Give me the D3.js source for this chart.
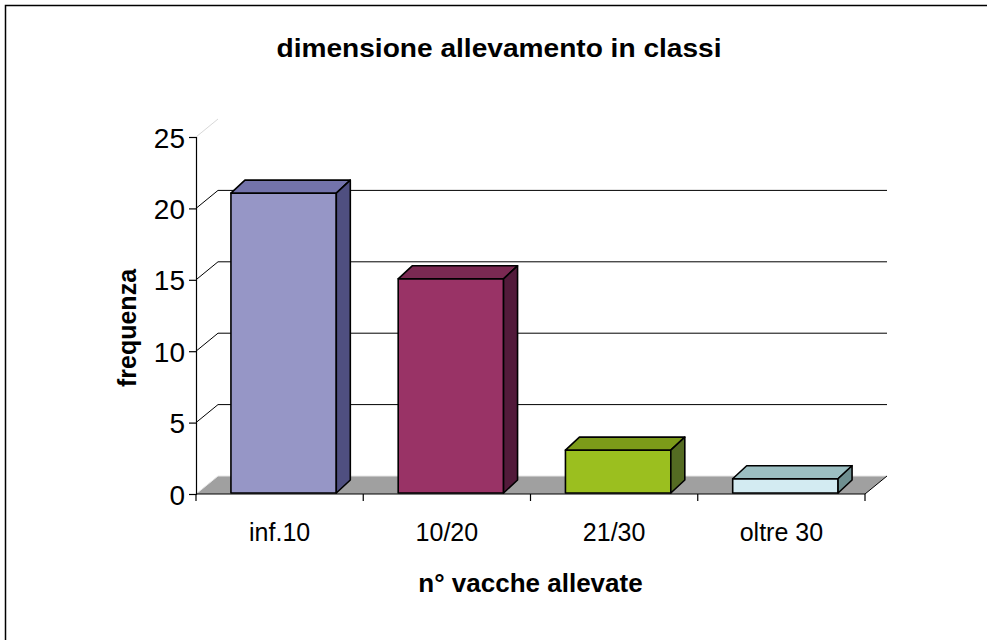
<!DOCTYPE html>
<html>
<head>
<meta charset="utf-8">
<script src="https://cdn.jsdelivr.net/npm/d3@7"></script>
<style>
  body { margin: 0; background: #fff; overflow: hidden; }
  svg { display: block; overflow: hidden; }
  text { font-family: "Liberation Sans Narrow", "Arial Narrow", "Liberation Sans", sans-serif; fill: #000; }
</style>
</head>
<body>
<div id="chart"></div>
<script>
// data
const categories = ["inf.10", "10/20", "21/30", "oltre 30"];
const values = [21, 15, 3, 1];
const tickValues = [0, 5, 10, 15, 20, 25];
const frontColors = ["#9696c6", "#993366", "#9bbf1f", "#d3ebf2"];
const topColors = ["#7373ab", "#7a2952", "#7c9b19", "#9cbfc2"];
const sideColors = ["#4f4f80", "#521a3a", "#546b22", "#6e8f90"];

const width = 987, height = 640;

// plot frame (front plane)
const plotLeft = 196, plotRight = 865, plotTop = 137, plotBottom = 494;
// depth of the walls and of the bars
const wallDx = 22, wallDy = -18;
const barDx = 14, barDy = -13;
const barShiftX = 4, barShiftY = -1;

const svg = d3.select("#chart").append("svg")
  .attr("width", width)
  .attr("height", height);

// outer frame
svg.append("rect")
  .attr("x", 5.5).attr("y", 5.5)
  .attr("width", 1000).attr("height", 700)
  .attr("fill", "none")
  .attr("stroke", "#000")
  .attr("stroke-width", 1.5);

const y = d3.scaleLinear().domain([0, 25]).range([plotBottom, plotTop]);
const x = d3.scaleBand().domain(categories).range([plotLeft, plotRight]).padding(0);
const xBar = d3.scaleBand().domain(categories).range([plotLeft, plotRight])
  .paddingInner(0.37).paddingOuter(0.185);

// back wall gridlines + side wall diagonals
const grid = svg.append("g");
tickValues.filter(v => v > 0).forEach(v => {
  const faint = v === 25;
  grid.append("line")
    .attr("x1", plotLeft).attr("y1", y(v))
    .attr("x2", plotLeft + wallDx).attr("y2", y(v) + wallDy)
    .attr("stroke", faint ? "#d8d8d8" : "#000")
    .attr("stroke-width", 1);
  if (!faint) {
    grid.append("line")
      .attr("x1", plotLeft + wallDx).attr("y1", y(v) + wallDy)
      .attr("x2", plotRight + wallDx).attr("y2", y(v) + wallDy)
      .attr("stroke", "#000")
      .attr("stroke-width", 1);
  }
});

// floor
const floorPts = [
  [plotLeft, y(0)], [plotRight, y(0)],
  [plotRight + wallDx, y(0) + wallDy], [plotLeft + wallDx, y(0) + wallDy]
];
svg.append("polygon")
  .attr("points", floorPts.map(p => p.join(",")).join(" "))
  .attr("fill", "#a0a0a0");
svg.append("line")
  .attr("x1", plotLeft + wallDx).attr("y1", y(0) + wallDy)
  .attr("x2", plotRight + wallDx).attr("y2", y(0) + wallDy)
  .attr("stroke", "#e6e6e6").attr("stroke-width", 1);
svg.append("line")
  .attr("x1", plotRight).attr("y1", y(0))
  .attr("x2", plotRight + wallDx).attr("y2", y(0) + wallDy)
  .attr("stroke", "#000").attr("stroke-width", 1);
svg.append("line")
  .attr("x1", plotLeft).attr("y1", y(0))
  .attr("x2", plotLeft + wallDx).attr("y2", y(0) + wallDy)
  .attr("stroke", "#e6e6e6").attr("stroke-width", 1);

// bars
const bars = svg.append("g")
  .selectAll("g")
  .data(categories.map((c, i) => ({ c, v: values[i], i })))
  .join("g")
  .attr("stroke", "#000")
  .attr("stroke-width", 1.6)
  .attr("stroke-linejoin", "round");

bars.each(function(d) {
  const g = d3.select(this);
  const x0 = xBar(d.c) + barShiftX;
  const x1 = x0 + xBar.bandwidth();
  const y0 = y(0) + barShiftY;
  const yt = y(d.v) + barShiftY;
  const poly = pts => pts.map(p => p.join(",")).join(" ");
  // front
  g.append("polygon")
    .attr("points", poly([[x0, yt], [x1, yt], [x1, y0], [x0, y0]]))
    .attr("fill", frontColors[d.i]);
  // top
  g.append("polygon")
    .attr("points", poly([[x0, yt], [x0 + barDx, yt + barDy], [x1 + barDx, yt + barDy], [x1, yt]]))
    .attr("fill", topColors[d.i]);
  // side
  g.append("polygon")
    .attr("points", poly([[x1, yt], [x1 + barDx, yt + barDy], [x1 + barDx, y0 + barDy], [x1, y0]]))
    .attr("fill", sideColors[d.i]);
});

// y axis
const yAxis = svg.append("g")
  .attr("transform", `translate(${plotLeft},0)`)
  .call(d3.axisLeft(y).tickValues(tickValues).tickSize(7).tickPadding(4));
yAxis.attr("font-family", null).attr("font-size", null);
yAxis.select(".domain").attr("stroke", "#000").attr("stroke-width", 1.2);
yAxis.selectAll(".tick line").attr("stroke", "#000").attr("stroke-width", 1.2);
yAxis.selectAll(".tick text")
  .style("font-size", "28px")
  .attr("dy", "0.36em");

// x axis: boundary ticks and labels centred in the bands
const xAxis = svg.append("g")
  .attr("transform", `translate(0,${plotBottom})`)
  .call(d3.axisBottom(x).tickSize(0).tickPadding(29));
xAxis.attr("font-family", null).attr("font-size", null);
xAxis.select(".domain").remove();
xAxis.selectAll(".tick text")
  .style("font-size", "25px");
svg.append("line")
  .attr("x1", plotLeft).attr("y1", plotBottom)
  .attr("x2", plotRight).attr("y2", plotBottom)
  .attr("stroke", "#000").attr("stroke-width", 1.2);
const bounds = categories.map(c => x(c)).concat([plotRight]);
svg.append("g")
  .selectAll("line")
  .data(bounds)
  .join("line")
  .attr("x1", d => d).attr("x2", d => d)
  .attr("y1", plotBottom).attr("y2", plotBottom + 7)
  .attr("stroke", "#000").attr("stroke-width", 1.2);

// titles
svg.append("text")
  .attr("x", 499).attr("y", 57)
  .attr("text-anchor", "middle")
  .attr("textLength", 445)
  .attr("lengthAdjust", "spacingAndGlyphs")
  .style("font-size", "25px")
  .style("font-weight", "bold")
  .text("dimensione allevamento in classi");

svg.append("text")
  .attr("x", (plotLeft + plotRight) / 2).attr("y", 592)
  .attr("text-anchor", "middle")
  .style("font-size", "26px")
  .style("font-weight", "bold")
  .text("n° vacche allevate");

svg.append("text")
  .attr("transform", "translate(136,328) rotate(-90)")
  .attr("text-anchor", "middle")
  .style("font-size", "25px")
  .style("font-weight", "bold")
  .text("frequenza");
</script>
</body>
</html>
